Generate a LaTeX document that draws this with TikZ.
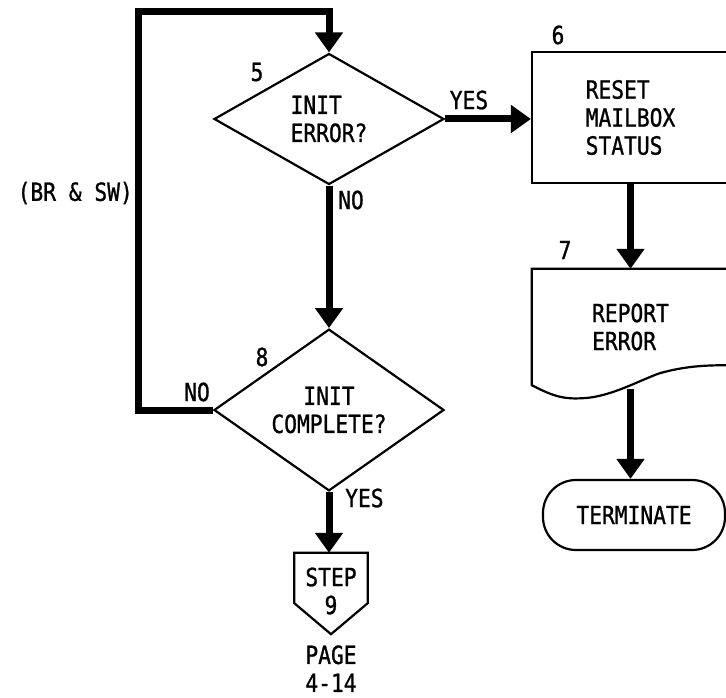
\documentclass[tikz,border=0pt]{standalone}
\usepackage{fontspec}
\setmonofont[FakeStretch=0.85,FakeBold=1]{DejaVu Sans Mono}
\usetikzlibrary{arrows.meta,positioning,shapes.geometric,calc}

\begin{document}
\begin{tikzpicture}[
  x=1pt,y=-1pt,
  >={Triangle[length=20pt,width=27pt]},
  every node/.style={font=\ttfamily\fontsize{25}{28}\selectfont},
  decision/.style={diamond,draw,line width=2.2pt,minimum width=230pt,minimum height=131pt,
    inner sep=0pt},
  process/.style={draw,line width=2.2pt,minimum width=197pt,minimum height=131pt,align=left},
  docbox/.style={minimum width=197pt,minimum height=116pt,align=left},
  terminal/.style={draw,line width=2.2pt,rounded corners=33pt,minimum width=182pt,minimum height=70pt},
  offpage/.style={minimum width=73pt,minimum height=76pt,align=center},
  outline/.style={line width=2.2pt},
  flow/.style={->,line width=7pt},
  tag/.style={inner sep=0pt}
]
  \useasboundingbox (0,0) rectangle (726,698);

  % boxes
  \node[decision,align=left] (error) at (329,119) {INIT\\ERROR?};
  \node[process] (reset) at (630.5,117.5) {RESET\\MAILBOX\\STATUS};
  \node[docbox] (report) at (630.5,327) {REPORT\\ERROR};
  \node[terminal] (term) at (634,515) {TERMINATE};
  \node[decision,align=center] (complete) at (329,410) {INIT\\COMPLETE?};
  \node[offpage] (step) at (331,591) {STEP\\9};
  \node[below=16pt of step,align=center,inner sep=0pt] (page) {PAGE\\4-14};

  % document outline with wavy bottom
  \draw[outline] ($(report.south east)+(0,-20)$) -- (report.north east) -- (report.north west)
    -- (report.south west)
    .. controls ($(report.south west)+(23,12)$) and ($(report.south west)+(33,14)$) .. ($(report.south west)+(51,13)$)
    .. controls ($(report.south west)+(78,12)$) and ($(report.south west)+(108,-5)$) .. ($(report.south west)+(128,-12)$)
    .. controls ($(report.south west)+(153,-19)$) and ($(report.south west)+(173,-20)$) .. ($(report.south west)+(197,-20)$);

  % off-page connector
  \draw[outline] (step.north west) -- (step.north east) -- ([yshift=26pt]step.south east)
    -- ([yshift=-5pt]step.south) -- ([yshift=26pt]step.south west) -- cycle;

  % step numbers
  \node[tag] (num5) at (257,72) {5};
  \node[tag] (num6) at (558,35) {6};
  \node[tag] (num7) at (565,250) {7};
  \node[tag] (num8) at (262,357) {8};

  % flow lines
  \coordinate (loop) at (138,12);
  \draw[flow] (error.east) -- (error.east -| reset.west);
  \draw[flow] (reset.south) -- (report.north);
  \draw[flow] ([yshift=-4pt]report.south) -- (report.south |- term.north);
  \draw[flow] (error.south) -- (complete.north);
  \draw[flow] (complete.south) -- (complete.south |- step.north);
  \draw[flow] (complete.west) -| (loop) -| (error.north);

  % branch labels
  \node[tag] (yes5) at (469,100) {YES};
  \node[tag,anchor=west] (no5) at (338,200) {NO};
  \node[tag] (no8) at (197,392) {NO};
  \node[tag,anchor=west] (yes8) at (345,498) {YES};
  \node[tag,anchor=east] (brsw) at (133,193) {(BR \& SW)};
\end{tikzpicture}
\end{document}
